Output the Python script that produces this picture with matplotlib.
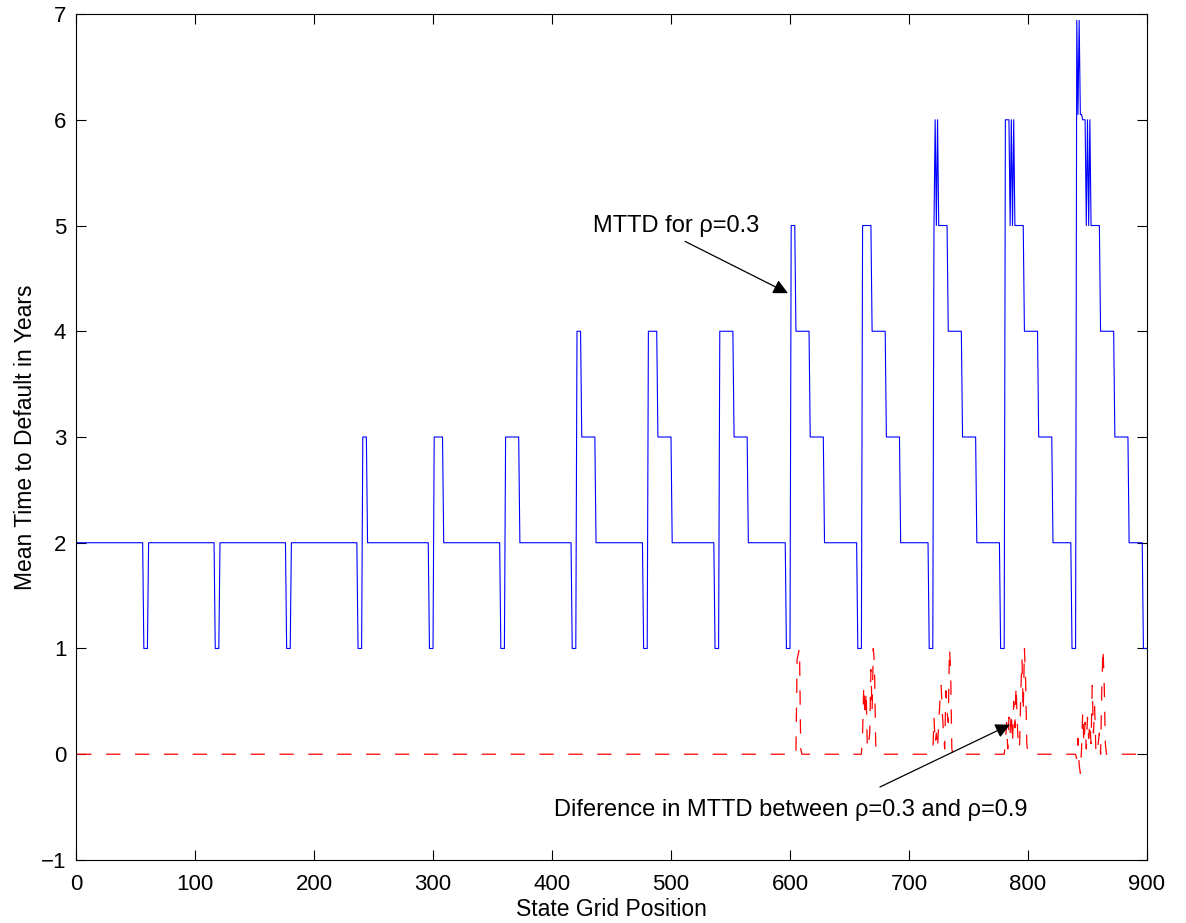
import numpy as np
import matplotlib
matplotlib.use('Agg')
import matplotlib.pyplot as plt

plt.rcParams['font.family'] = ['Liberation Sans', 'DejaVu Sans']
plt.rcParams['lines.scale_dashes'] = False

# MTTD for rho=0.3, stored as step levels and how many grid positions each lasts
mttd_levels = [2, 1, 2, 1, 2, 1, 2, 1,
               3, 2, 1,
               3, 2, 1,
               3, 2, 1,
               4, 3, 2, 1,
               4, 3, 2, 1,
               4, 3, 2, 1,
               5, 4, 3, 2, 1,
               5, 4, 3, 2, 1,
               5, 6, 5, 6, 5, 4, 3, 2, 1,
               6, 5, 6, 5, 6, 5, 4, 3, 2, 1,
               6.94, 6.05, 6.94, 6.05, 6, 5, 6, 5, 6, 5, 4, 3, 2, 1]
mttd_runs = [56, 4, 56, 4, 56, 4, 56, 4,
             4, 52, 4,
             8, 48, 4,
             12, 44, 4,
             4, 12, 40, 4,
             8, 12, 36, 4,
             12, 12, 32, 4,
             4, 12, 12, 28, 4,
             8, 12, 12, 24, 4,
             1, 1, 1, 1, 8, 12, 12, 20, 4,
             4, 1, 1, 1, 1, 8, 12, 12, 16, 4,
             1, 1, 1, 2, 3, 1, 1, 1, 1, 8, 12, 12, 12, 4]

# difference rho=0.3 vs rho=0.9 (zero elsewhere)
diff_start = [606, 661, 721, 781, 841]
diff_vals = [
    [0.9, 0.95, 1.0, 0.05],
    [0.2, 0.65, 0.35, 0.6, 0.05, 0.1, 0.2, 0.8, 0.4, 1.0, 0.85, 0.1],
    [0.35, 0.1, 0.2, 0.05, 0.3, 0.5, 0.65, 0.4, 0.2, 0.05, 0.6, 0.4, 0.3, 1.0, 0.8, 0.05],
    [0.1, 0.3, 0.05, 0.35, 0.2, 0.4, 0.1, 0.5, 0.25, 0.65, 0.3, 0.05, 0.1, 0.6, 0.9, 0.4, 1.0, 0.7, 0.1],
    [-0.05, 0.15, -0.1, -0.18, 0.05, 0.4, 0.1, 0.3, 0.05, 0.35, 0.15, 0.3, 0.1, 0.65, 0.2, 0.45,
     0.05, 0.0, 0.1, 0.2, 0.0, 0.6, 1.0, 0.7, 0.1],
]

mttd = np.repeat(mttd_levels, mttd_runs)
n = len(mttd)
pos = np.arange(1, n + 1)
diff = np.zeros(n)
for s, v in zip(diff_start, diff_vals):
    diff[s - 1:s - 1 + len(v)] = v

fig = plt.figure(figsize=(11.86, 9.23), dpi=100)
ax = fig.add_axes([0.0641, 0.0683, 0.903, 0.9165])

ax.plot(pos, mttd, color='blue', lw=0.8)
ax.plot(pos, diff, color='red', lw=0.9, dashes=(10.3, 10.5))

ax.set_xlim(0, 900)
ax.set_ylim(-1, 7)
ax.set_xticks(range(0, 901, 100))
ax.set_yticks(range(-1, 8))
ax.tick_params(direction='in', length=7, width=0.8, top=True, right=True, labelsize=16)
ax.tick_params(axis='x', pad=10)
ax.tick_params(axis='y', pad=7)
for sp in ax.spines.values():
    sp.set_linewidth(0.8)
ax.set_yticklabels(['\u22121'] + [str(i) for i in range(0, 8)])

ax.set_xlabel('State Grid Position', fontsize=16.5, labelpad=2)
ax.set_ylabel('Mean Time to Default in Years', fontsize=16.5, labelpad=3)

arrow = dict(arrowstyle='-|>', color='k', lw=0.9, mutation_scale=22, shrinkA=0, shrinkB=0)
ax.text(504, 5.0, 'MTTD for \u03c1=0.3', fontsize=17, ha='center', va='center')
ax.annotate('', xy=(598.3, 4.36), xytext=(511.8, 4.85), arrowprops=arrow)
ax.text(600.8, -0.53, 'Diference in MTTD between \u03c1=0.3 and \u03c1=0.9', fontsize=17,
        ha='center', va='center')
ax.annotate('', xy=(784.9, 0.28), xytext=(675.6, -0.31), arrowprops=arrow)

plt.savefig('out.png', dpi=100)
